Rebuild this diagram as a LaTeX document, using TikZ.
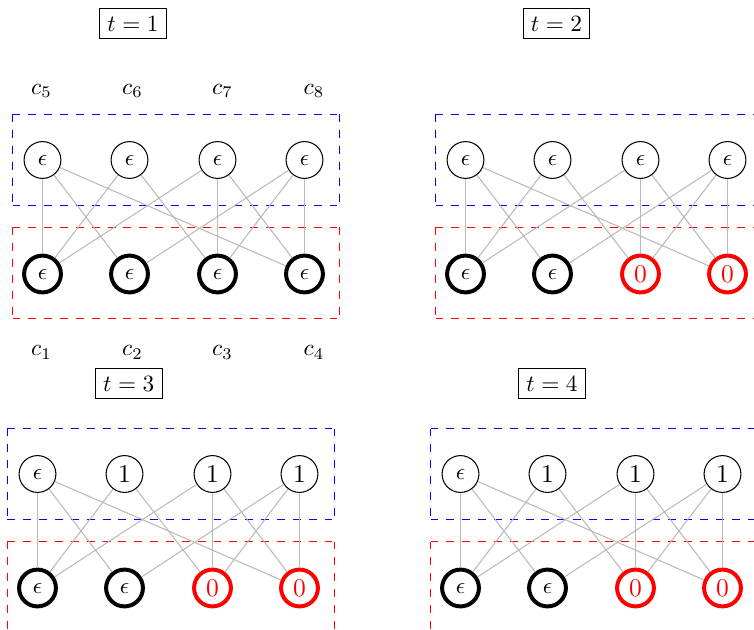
\documentclass[tikz,border=0pt]{standalone}
\begin{document}
\begin{tikzpicture}[x=0.429pt,y=-0.429pt,
  cnode/.style={circle, draw, line width=0.45pt, minimum size=15.8pt, inner sep=0pt},
  vnode/.style={circle, draw, line width=1.7pt, minimum size=15.8pt, inner sep=0pt},
  rnode/.style={vnode, color=red},
  link/.style={color=gray!55, line width=0.45pt},
  bluebox/.style={draw=blue, dash pattern=on 3.4pt off 3.4pt, line width=0.55pt},
  redbox/.style={draw=red, dash pattern=on 3.4pt off 3.4pt, line width=0.55pt},
  tlabel/.style={draw, line width=0.45pt, inner sep=3.33pt},
  clabel/.style={inner sep=0pt},
  dig/.style={font=\fontsize{11.2pt}{13pt}\selectfont}]
\useasboundingbox (0,0) rectangle (754,630);
\newcommand\bipedges[1]{%
  \foreach \a/\b in {1/1,1/2,1/4,2/1,2/3,3/1,3/3,3/4,4/2,4/3,4/4}
    \draw[link] (#1t\a) -- (#1b\b);}
\newcommand\mydashrect[5]{% style, x1, y1, x2, y2
  \draw[#1] (#2,#3) -- (#4,#3);
  \draw[#1] (#4,#3) -- (#4,#5);
  \draw[#1] (#2,#5) -- (#4,#5);
  \draw[#1] (#2,#3) -- (#2,#5);}
% ---------- panel 1 ----------
\node[tlabel] (tl1) at (133,23.5) {$t=1$};
\begin{scope}
  \mydashrect{bluebox}{12.5}{114.5}{339.5}{205.5}
  \mydashrect{redbox}{12.5}{227.5}{339.5}{318.5}
  \node[cnode] (at1) at (42.5,160) {$\epsilon$};
  \node[cnode] (at2) at (129.5,160) {$\epsilon$};
  \node[cnode] (at3) at (217.5,160) {$\epsilon$};
  \node[cnode] (at4) at (304.5,160) {$\epsilon$};
  \node[vnode] (ab1) at (42.5,274) {$\epsilon$};
  \node[vnode] (ab2) at (129.5,274) {$\epsilon$};
  \node[vnode] (ab3) at (217.5,274) {$\epsilon$};
  \node[vnode] (ab4) at (304.5,274) {$\epsilon$};
  \bipedges{a}
  \node[clabel] (c5) at (41.5,91) {$c_5$};
  \node[clabel] (c6) at (132.5,91) {$c_6$};
  \node[clabel] (c7) at (222.5,91) {$c_7$};
  \node[clabel] (c8) at (314,91) {$c_8$};
  \node[clabel] (c1) at (41.5,352.5) {$c_1$};
  \node[clabel] (c2) at (132.5,352.5) {$c_2$};
  \node[clabel] (c3) at (222.5,352.5) {$c_3$};
  \node[clabel] (c4) at (314,352.5) {$c_4$};
\end{scope}
% ---------- panel 2 ----------
\node[tlabel] (tl2) at (556.5,23.5) {$t=2$};
\begin{scope}[shift={(423,0)}]
  \mydashrect{bluebox}{12.5}{114.5}{339.5}{205.5}
  \mydashrect{redbox}{12.5}{227.5}{339.5}{318.5}
  \node[cnode] (bt1) at (42.5,160) {$\epsilon$};
  \node[cnode] (bt2) at (129.5,160) {$\epsilon$};
  \node[cnode] (bt3) at (217.5,160) {$\epsilon$};
  \node[cnode] (bt4) at (304.5,160) {$\epsilon$};
  \node[vnode] (bb1) at (42.5,274) {$\epsilon$};
  \node[vnode] (bb2) at (129.5,274) {$\epsilon$};
  \node[rnode,dig] (bb3) at (217.5,274) {$0$};
  \node[rnode,dig] (bb4) at (304.5,274) {$0$};
  \bipedges{b}
\end{scope}
% ---------- panel 3 ----------
\node[tlabel] (tl3) at (128.7,383.5) {$t=3$};
\begin{scope}[shift={(-5,314)}]
  \mydashrect{bluebox}{12.5}{114.5}{339.5}{205.5}
  \mydashrect{redbox}{12.5}{227.5}{339.5}{318.5}
  \node[cnode] (ct1) at (42.5,160) {$\epsilon$};
  \node[cnode,dig] (ct2) at (129.5,160) {$1$};
  \node[cnode,dig] (ct3) at (217.5,160) {$1$};
  \node[cnode,dig] (ct4) at (304.5,160) {$1$};
  \node[vnode] (cb1) at (42.5,274) {$\epsilon$};
  \node[vnode] (cb2) at (129.5,274) {$\epsilon$};
  \node[rnode,dig] (cb3) at (217.5,274) {$0$};
  \node[rnode,dig] (cb4) at (304.5,274) {$0$};
  \bipedges{c}
\end{scope}
% ---------- panel 4 ----------
\node[tlabel] (tl4) at (552,383.5) {$t=4$};
\begin{scope}[shift={(418,314)}]
  \mydashrect{bluebox}{12.5}{114.5}{339.5}{205.5}
  \mydashrect{redbox}{12.5}{227.5}{339.5}{318.5}
  \node[cnode] (dt1) at (42.5,160) {$\epsilon$};
  \node[cnode,dig] (dt2) at (129.5,160) {$1$};
  \node[cnode,dig] (dt3) at (217.5,160) {$1$};
  \node[cnode,dig] (dt4) at (304.5,160) {$1$};
  \node[vnode] (db1) at (42.5,274) {$\epsilon$};
  \node[vnode] (db2) at (129.5,274) {$\epsilon$};
  \node[rnode,dig] (db3) at (217.5,274) {$0$};
  \node[rnode,dig] (db4) at (304.5,274) {$0$};
  \bipedges{d}
\end{scope}
\end{tikzpicture}
\end{document}
